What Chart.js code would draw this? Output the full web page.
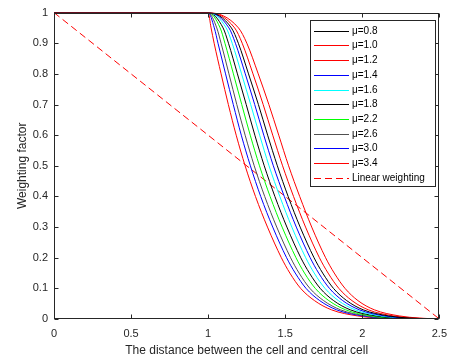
<!DOCTYPE html>
<html><head><meta charset="utf-8">
<script src="https://cdn.jsdelivr.net/npm/chart.js@4"></script>
<style>html,body{margin:0;padding:0;background:#fff}</style>
</head><body>
<canvas id="c" width="455" height="359"></canvas>
<script>
// Shared y-levels (weighting factor) at which the x (distance) of each curve was read
const yLevels = [1, 1, 0.95, 0.9, 0.8, 0.7, 0.6, 0.5, 0.4, 0.3, 0.2, 0.15, 0.1, 0.06, 0.03, 0.01, 0.003, 0];
// x positions of each curve at those levels
const xsMu08 = [0,1,1.151,1.196,1.262,1.326,1.386,1.449,1.519,1.597,1.687,1.743,1.813,1.899,2.006,2.170,2.305,2.5];
const xsMu10 = [0,1,1.197,1.251,1.325,1.394,1.458,1.522,1.594,1.672,1.762,1.818,1.888,1.972,2.078,2.240,2.370,2.5];
const xsMu12 = [0,1,1.172,1.221,1.291,1.357,1.419,1.483,1.554,1.632,1.722,1.778,1.848,1.933,2.039,2.202,2.335,2.5];
const xsMu14 = [0,1,1.135,1.177,1.241,1.302,1.361,1.423,1.494,1.572,1.662,1.717,1.787,1.873,1.981,2.146,2.283,2.5];
const xsMu16 = [0,1,1.117,1.156,1.217,1.276,1.334,1.395,1.465,1.543,1.633,1.688,1.758,1.845,1.953,2.119,2.258,2.5];
const xsMu18 = [0,1,1.097,1.132,1.190,1.247,1.303,1.364,1.433,1.511,1.601,1.657,1.727,1.814,1.922,2.089,2.230,2.5];
const xsMu22 = [0,1,1.078,1.109,1.164,1.218,1.273,1.333,1.402,1.480,1.570,1.625,1.695,1.783,1.892,2.059,2.203,2.5];
const xsMu26 = [0,1,1.056,1.084,1.135,1.186,1.240,1.299,1.367,1.445,1.535,1.590,1.660,1.749,1.858,2.027,2.173,2.5];
const xsMu30 = [0,1,1.040,1.064,1.113,1.163,1.215,1.274,1.341,1.419,1.509,1.565,1.635,1.724,1.833,2.002,2.150,2.5];
const xsMu34 = [0,1,1.019,1.039,1.084,1.131,1.182,1.240,1.307,1.385,1.475,1.530,1.600,1.690,1.800,1.970,2.120,2.5];
// Linear weighting
const linearX = [0, 2.5];
const linearY = [1, 0];

const seriesLabels = ['μ=0.8','μ=1.0','μ=1.2','μ=1.4','μ=1.6','μ=1.8','μ=2.2','μ=2.6','μ=3.0','μ=3.4'];
const seriesXs = [xsMu08, xsMu10, xsMu12, xsMu14, xsMu16, xsMu18, xsMu22, xsMu26, xsMu30, xsMu34];
const seriesColors = ['#000000','#ff0000','#ff0000','#0000ff','#00ffff','#000000','#00ff00','#505050','#0000ff','#ff0000'];

Chart.defaults.font.family = "'Liberation Sans', Arial, Helvetica, sans-serif";
const axisColor = '#262626';

const datasets = seriesXs.map((xs, k) => ({
  label: seriesLabels[k],
  data: xs.map((x, i) => ({x: x, y: yLevels[i]})),
  borderColor: seriesColors[k],
  borderWidth: 1,
  pointRadius: 0,
  fill: false,
  cubicInterpolationMode: 'monotone'
}));
datasets.push({
  label: 'Linear weighting',
  data: linearX.map((x, i) => ({x: x, y: linearY[i]})),
  borderColor: '#ff0000',
  borderWidth: 1,
  borderDash: [7, 4],
  pointRadius: 0,
  fill: false
});

const framePlugin = {
  id: 'frame',
  afterDraw(chart) {
    const {ctx, chartArea: a, scales} = chart;
    const L = Math.round(a.left) + 0.5, R = Math.round(a.right) - 0.5;
    const T = Math.round(a.top) + 0.5, B = Math.round(a.bottom) - 0.5;
    ctx.save();
    ctx.strokeStyle = axisColor;
    ctx.lineWidth = 1;
    ctx.strokeRect(L, T, R - L, B - T);
    const tl = 4;
    ctx.beginPath();
    scales.x.ticks.forEach(t => {
      const px = Math.round(scales.x.getPixelForValue(t.value)) + 0.5;
      ctx.moveTo(px, B); ctx.lineTo(px, B - tl);
      ctx.moveTo(px, T); ctx.lineTo(px, T + tl);
    });
    scales.y.ticks.forEach(t => {
      const py = Math.round(scales.y.getPixelForValue(t.value)) + 0.5;
      ctx.moveTo(L, py); ctx.lineTo(L + tl, py);
      ctx.moveTo(R, py); ctx.lineTo(R - tl, py);
    });
    ctx.stroke();

    // legend box
    const bx = 310.5, by = 20.5, bw = 125, bh = 166;
    ctx.fillStyle = '#ffffff';
    ctx.fillRect(bx, by, bw, bh);
    ctx.strokeStyle = axisColor;
    ctx.strokeRect(bx, by, bw, bh);
    ctx.font = "10px 'Liberation Sans', Arial, sans-serif";
    ctx.textBaseline = 'middle';
    ctx.textAlign = 'left';
    chart.data.datasets.forEach((ds, i) => {
      const y = Math.round(30.7 + i * 14.7) + 0.5;
      ctx.strokeStyle = ds.borderColor;
      ctx.lineWidth = 1;
      ctx.setLineDash(ds.borderDash || []);
      ctx.beginPath();
      ctx.moveTo(314, y); ctx.lineTo(349, y);
      ctx.stroke();
      ctx.setLineDash([]);
      ctx.fillStyle = '#000000';
      ctx.fillText(ds.label, 352, y);
    });
    ctx.restore();
  }
};

new Chart(document.getElementById('c'), {
  type: 'line',
  data: {datasets},
  plugins: [framePlugin],
  options: {
    responsive: false,
    animation: false,
    layout: {padding: {top: 10, right: 11, left: 0, bottom: 0}},
    plugins: {legend: {display: false}, tooltip: {enabled: false}},
    scales: {
      x: {
        type: 'linear', min: 0, max: 2.5,
        grid: {display: false, drawTicks: false},
        border: {display: false},
        ticks: {stepSize: 0.5, padding: 8, color: axisColor, font: {size: 11},
                callback: v => String(Number(v.toFixed(1)))},
        title: {display: true, text: 'The distance between the cell and central cell',
                color: axisColor, font: {size: 12}, padding: {top: 0, bottom: 1}},
        afterFit: s => { s.height = 40; }
      },
      y: {
        type: 'linear', min: 0, max: 1,
        grid: {display: false, drawTicks: false},
        border: {display: false},
        ticks: {stepSize: 0.1, padding: 6, color: axisColor, font: {size: 11},
                callback: v => String(Number(v.toFixed(1)))},
        title: {display: true, text: 'Weighting factor',
                color: axisColor, font: {size: 12}, padding: {top: 15, bottom: 0}},
        afterFit: s => { s.width = 54; }
      }
    }
  }
});
</script>
</body></html>
